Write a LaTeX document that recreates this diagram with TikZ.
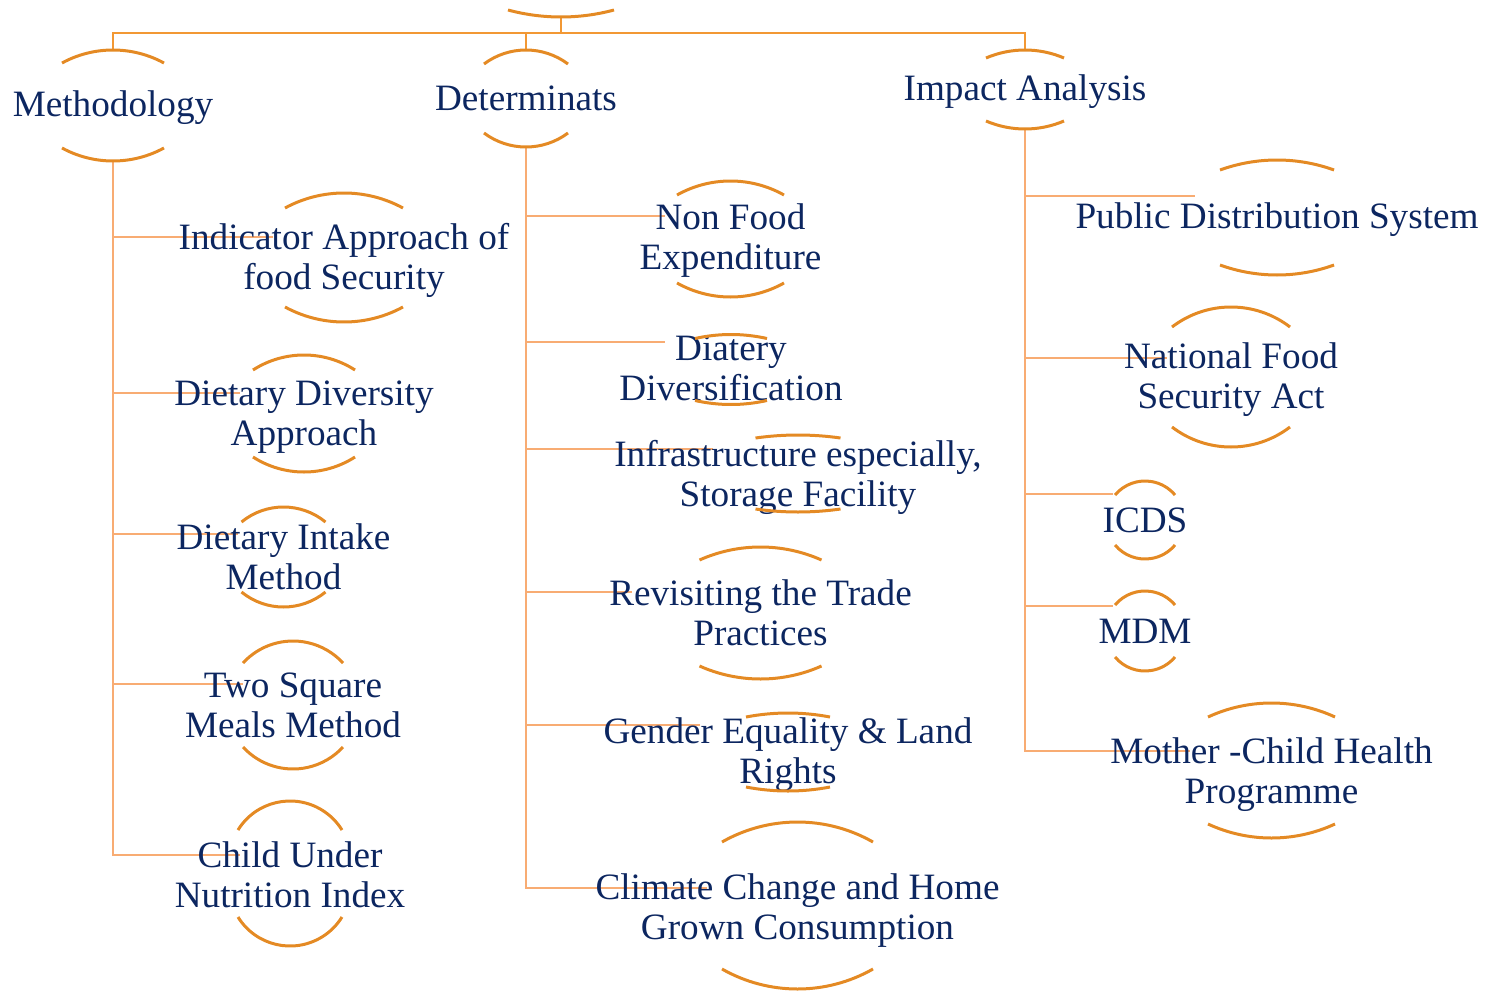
\documentclass[tikz,border=0pt]{standalone}
\usepackage{fontspec}
\setmainfont{Liberation Serif}
\usetikzlibrary{backgrounds}

\definecolor{navy}{RGB}{12,38,96}
\definecolor{lidorange}{RGB}{228,138,36}
\definecolor{busorange}{RGB}{242,152,52}
\definecolor{peach}{RGB}{248,172,115}

% arcs above and below a label: apex, half width, sag
\newcommand\toplid[3]{%
  \pgfmathsetmacro\lidr{(#2*#2+#3*#3)/(2*#3)}%
  \pgfmathsetmacro\lida{asin(#2/\lidr)}%
  \draw[lid] ([shift={(-#2,#3)}]#1) arc[start angle=270-\lida, end angle=270+\lida, radius=\lidr];
}
\newcommand\botlid[3]{%
  \pgfmathsetmacro\lidr{(#2*#2+#3*#3)/(2*#3)}%
  \pgfmathsetmacro\lida{asin(#2/\lidr)}%
  \draw[lid] ([shift={(-#2,-#3)}]#1) arc[start angle=90+\lida, end angle=90-\lida, radius=\lidr];
}
% node, distance up, distance down, half width, sag
\newcommand\lids[5]{%
  \coordinate (#1-t) at ([shift={(0,-#2)}]#1.center);
  \coordinate (#1-b) at ([shift={(0,#3)}]#1.center);
  \toplid{#1-t}{#4}{#5}
  \botlid{#1-b}{#4}{#5}
}

\begin{document}
\begin{tikzpicture}[x=0.5pt, y=-0.5pt]
  \tikzstyle{item}=[align=center, text=navy, inner sep=0pt, font=\fontsize{18.6}{20}\selectfont]
  \tikzstyle{lid}=[draw=lidorange, line width=1.5pt]
  \tikzstyle{link}=[draw=peach, line width=1.4pt]
  \tikzstyle{bus}=[draw=busorange, line width=1.3pt]

  \useasboundingbox (0,0) rectangle (1486,990);

  % top level
  \coordinate (root-b) at (561,17);
  \botlid{root-b}{53}{7}

  \node[item] (meth) at (113,107.5) {Methodology};
  \node[item] (det)  at (526,98.5)  {Determinats};
  \node[item] (imp)  at (1025,91.5) {Impact Analysis};
  \lids{meth}{57.5}{53.5}{51}{13}
  \lids{det}{48.5}{48.5}{42}{14}
  \lids{imp}{41.5}{37.5}{39}{8}

  % methodology
  \node[item] (ind)  at (344,260.5) {Indicator Approach of\\food Security};
  \node[item] (div)  at (304,417.5) {Dietary Diversity\\Approach};
  \node[item] (intk) at (283.5,557)  {Dietary Intake\\Method};
  \node[item] (sqm)  at (293,705)   {Two Square\\Meals Method};
  \node[item] (cuni) at (290,874.5) {Child Under\\Nutrition Index};
  \lids{ind}{67.5}{61.5}{59}{15}
  \lids{div}{62.5}{54.5}{51}{15}
  \lids{intk}{50}{50}{42}{15}
  \lids{sqm}{64}{64}{50}{22}
  \lids{cuni}{73.5}{71.5}{52}{29}

  % determinants
  \node[item] (nfe)   at (730.5,241) {Non Food\\Expenditure};
  \node[item] (diat)  at (731,368.5) {Diatery\\Diversification};
  \node[item] (infra) at (798,477.5) {Infrastructure especially,\\Storage Facility};
  \node[item] (trade) at (760.5,613) {Revisiting the Trade\\Practices};
  \node[item] (gend)  at (788,755)   {Gender Equality \& Land\\Rights};
  \node[item] (clim)  at (797.5,910.5) {Climate Change and Home\\Grown Consumption};
  \lids{nfe}{60}{56}{53.5}{14}
  \lids{diat}{34}{36}{36}{4}
  \lids{infra}{42.5}{34.5}{42.5}{3}
  \lids{trade}{66}{66}{61}{13}
  \lids{gend}{42}{36}{42}{4}
  \lids{clim}{88.5}{78.5}{75.5}{20}

  % impact analysis
  \node[item] (pds)  at (1277,219.5)  {Public Distribution System};
  \node[item] (nfsa) at (1231,380)    {National Food\\Security Act};
  \node[item] (icds) at (1145,520)    {ICDS};
  \node[item] (mdm)  at (1145,631)    {MDM};
  \node[item] (mch)  at (1271.5,774.5) {Mother -Child Health\\Programme};
  \lids{pds}{59.5}{55.5}{57}{10}
  \lids{nfsa}{73}{67}{59}{20}
  \lids{icds}{39}{39}{30}{14}
  \lids{mdm}{40}{40}{30}{14}
  \lids{mch}{71.5}{63.5}{63.5}{14}

  % where the branches stop
  \coordinate (ind-in)   at (273,237);
  \coordinate (div-in)   at (240,393);
  \coordinate (intk-in)  at (238,534);
  \coordinate (sqm-in)   at (243,684);
  \coordinate (cuni-in)  at (240,855);
  \coordinate (nfe-in)   at (665,216);
  \coordinate (diat-in)  at (665,342);
  \coordinate (infra-in) at (713,449);
  \coordinate (trade-in) at (632,592);
  \coordinate (gend-in)  at (700,725);
  \coordinate (clim-in)  at (707,888);
  \coordinate (pds-in)   at (1195,196);
  \coordinate (nfsa-in)  at (1167,358);
  \coordinate (icds-in)  at (1113,494);
  \coordinate (mdm-in)   at (1113,606);
  \coordinate (mch-in)   at (1190,751);

  \begin{scope}[on background layer]
    \draw[bus] (root-b) -- ++(0,16) coordinate (bus);
    \draw[bus] (bus) -| (meth-t);
    \draw[bus] (bus) -| (det-t);
    \draw[bus] (bus) -| (imp-t);

    \draw[link] (meth-b) |- (ind-in);
    \draw[link] (meth-b) |- (div-in);
    \draw[link] (meth-b) |- (intk-in);
    \draw[link] (meth-b) |- (sqm-in);
    \draw[link] (meth-b) |- (cuni-in);

    \draw[link] (det-b) |- (nfe-in);
    \draw[link] (det-b) |- (diat-in);
    \draw[link] (det-b) |- (infra-in);
    \draw[link] (det-b) |- (trade-in);
    \draw[link] (det-b) |- (gend-in);
    \draw[link] (det-b) |- (clim-in);

    \draw[link] (imp-b) |- (pds-in);
    \draw[link] (imp-b) |- (nfsa-in);
    \draw[link] (imp-b) |- (icds-in);
    \draw[link] (imp-b) |- (mdm-in);
    \draw[link] (imp-b) |- (mch-in);
  \end{scope}
\end{tikzpicture}
\end{document}
